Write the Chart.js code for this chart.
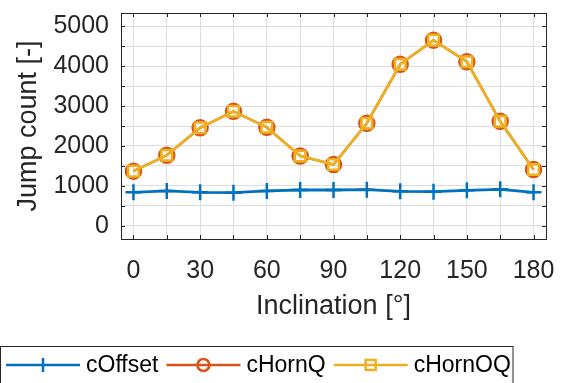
<!DOCTYPE html>
<html>
<head>
<meta charset="utf-8">
<script src="https://cdn.jsdelivr.net/npm/chart.js@4/dist/chart.umd.min.js"></script>
<style>
  html, body { margin: 0; background: #fff; }
</style>
</head>
<body>
<canvas id="chart" width="564" height="383"></canvas>
<script>
// data
const inclination = [0, 15, 30, 45, 60, 75, 90, 105, 120, 135, 150, 165, 180];
const cOffset  = [838, 871, 838, 828, 871, 896, 896, 903, 863, 853, 888, 913, 838];
const cHornQ   = [1368, 1766, 2455, 2868, 2470, 1749, 1535, 2570, 4047, 4652, 4112, 2619, 1410];
const cHornOQ  = [1368, 1766, 2455, 2868, 2470, 1749, 1535, 2570, 4047, 4652, 4112, 2619, 1410];
const xGridTicks = [0, 15, 30, 45, 60, 75, 90, 105, 120, 135, 150, 165, 180];
const xTickLabels = [0, 30, 60, 90, 120, 150, 180];
const yGridTicks = [0, 500, 1000, 1500, 2000, 2500, 3000, 3500, 4000, 4500, 5000];
const yTickLabels = [0, 1000, 2000, 3000, 4000, 5000];

const FONT = '"Liberation Sans", Arial, Helvetica, sans-serif';
const INK = '#262626';
const BLUE = '#0072BD', ORANGE = '#D95319', YELLOW = '#EDB120';

const pts = vals => vals.map((y, i) => ({ x: inclination[i], y }));

// box, inward ticks and the MATLAB-style legend
const matlabFrame = {
  id: 'matlabFrame',
  afterDatasetsDraw(chart) {
    const { ctx, chartArea: a, scales: { x, y } } = chart;
    ctx.save();
    ctx.strokeStyle = INK;
    ctx.lineWidth = 1;
    ctx.beginPath();
    const tl = 4;
    x.ticks.forEach(t => {
      const px = Math.round(x.getPixelForValue(t.value)) + 0.5;
      ctx.moveTo(px, a.bottom); ctx.lineTo(px, a.bottom - tl);
      ctx.moveTo(px, a.top); ctx.lineTo(px, a.top + tl);
    });
    y.ticks.forEach(t => {
      const py = Math.round(y.getPixelForValue(t.value)) + 0.5;
      ctx.moveTo(a.left, py); ctx.lineTo(a.left + tl, py);
      ctx.moveTo(a.right, py); ctx.lineTo(a.right - tl, py);
    });
    ctx.stroke();
    ctx.strokeRect(Math.round(a.left) + 0.5, Math.round(a.top) + 0.5,
                   Math.round(a.right - a.left), Math.round(a.bottom - a.top));
    ctx.restore();
  },
  afterDraw(chart) {
    const { ctx } = chart;
    ctx.save();
    ctx.strokeStyle = INK;
    ctx.lineWidth = 1;
    ctx.strokeRect(0.5, 346.5, 512.5, 80);
    ctx.font = '23px ' + FONT;
    ctx.textBaseline = 'middle';
    ctx.fillStyle = '#000';
    const cy = 365;
    let cx = 6;
    chart.data.datasets.forEach(ds => {
      const col = ds.borderColor;
      ctx.strokeStyle = col;
      ctx.lineWidth = 2.5;
      ctx.beginPath();
      ctx.moveTo(cx, cy); ctx.lineTo(cx + 74, cy);
      ctx.stroke();
      const mx = cx + 37;
      ctx.beginPath();
      if (ds.pointStyle === 'cross') {
        ctx.moveTo(mx, cy - 7); ctx.lineTo(mx, cy + 7);
      } else if (ds.pointStyle === 'circle') {
        ctx.arc(mx, cy, 6, 0, Math.PI * 2);
      } else {
        ctx.rect(mx - 5, cy - 5, 10, 10);
      }
      ctx.stroke();
      ctx.fillText(ds.label, cx + 80, cy + 1);
      cx += 80 + ctx.measureText(ds.label).width + 8;
    });
    ctx.restore();
  }
};

const setTicks = vals => s => { s.ticks = vals.map(v => ({ value: v })); };

new Chart(document.getElementById('chart'), {
  type: 'line',
  data: {
    datasets: [
      { label: 'cOffset', data: pts(cOffset), borderColor: BLUE, backgroundColor: BLUE,
        borderWidth: 2.8, pointStyle: 'cross', pointRadius: 8, pointBorderWidth: 2.5,
        pointBorderColor: BLUE, order: 3 },
      { label: 'cHornQ', data: pts(cHornQ), borderColor: ORANGE, backgroundColor: 'rgba(0,0,0,0)',
        borderWidth: 2.5, pointStyle: 'circle', pointRadius: 7.5, pointBorderWidth: 2.5,
        pointBorderColor: ORANGE, order: 2 },
      { label: 'cHornOQ', data: pts(cHornOQ), borderColor: YELLOW, backgroundColor: 'rgba(0,0,0,0)',
        borderWidth: 2.5, pointStyle: 'rect', pointRadius: 7.5, pointBorderWidth: 2.5,
        pointBorderColor: YELLOW, order: 1 }
    ]
  },
  options: {
    responsive: false,
    animation: false,
    layout: { padding: { left: 0, top: 13, right: 18, bottom: 54 } },
    plugins: { legend: { display: false }, tooltip: { enabled: false } },
    elements: { line: { tension: 0 } },
    scales: {
      x: {
        type: 'linear', min: -5.6, max: 185.6, bounds: 'data',
        afterBuildTicks: setTicks(xGridTicks),
        afterFit: s => { s.height = 90; s.paddingLeft = 0; s.paddingRight = 0; },
        grid: { color: '#dedede', lineWidth: 1, drawTicks: false },
        border: { display: false },
        ticks: {
          autoSkip: false, maxRotation: 0,
          padding: 17, color: INK, font: { family: FONT, size: 25 },
          callback: v => xTickLabels.includes(v) ? String(v) : ''
        },
        title: { display: true, text: 'Inclination [°]', color: INK,
                 font: { family: FONT, size: 27 }, padding: { top: 0, bottom: 6 } }
      },
      y: {
        type: 'linear', min: -333, max: 5333, bounds: 'data',
        afterBuildTicks: setTicks(yGridTicks),
        afterFit: s => { s.width = 121; s.paddingTop = 0; s.paddingBottom = 0; },
        grid: { color: '#dedede', lineWidth: 1, drawTicks: false },
        border: { display: false },
        ticks: {
          autoSkip: false,
          padding: 12, color: INK, font: { family: FONT, size: 25 },
          callback: v => yTickLabels.includes(v) ? String(v) : ''
        },
        title: { display: true, text: 'Jump count [-]', color: INK,
                 font: { family: FONT, size: 27 }, padding: { top: 12, bottom: 0 } }
      }
    }
  },
  plugins: [matlabFrame]
});
</script>
</body>
</html>
